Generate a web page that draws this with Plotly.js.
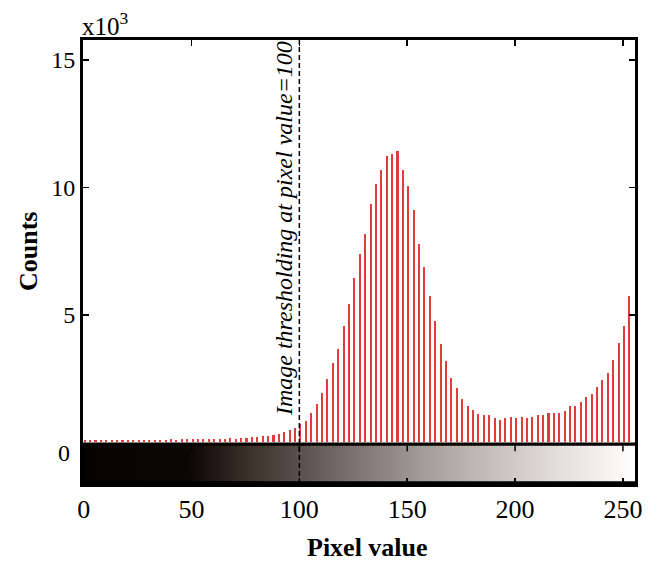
<!DOCTYPE html>
<html>
<head>
<meta charset="utf-8">
<script src="https://cdn.plot.ly/plotly-3.0.1.min.js"></script>
<style>html,body{margin:0;padding:0;background:#fff;}#chart{width:659px;height:564px;}</style>
</head>
<body>
<div id="chart"></div>
<script>
// Bin centres (pixel value) of the histogram bars
const pixelValues = [0.5,3,5.5,8,10.5,13,15.5,18,20.5,23,25.5,28,30.5,33,35.5,38,40.5,43,45.5,48,
  50.5,53,55.5,58,60.5,63,65.5,68,70.5,73,75.5,78,80.5,83,85.5,88,90.5,93,95.5,98,
  100.5,103,105.5,108,110.5,113,115.5,118,120.5,123,125.5,128,130.5,133,135.5,138,140.5,143,145.5,148,
  150.5,153,155.5,158,160.5,163,165.5,168,170.5,173,175.5,178,180.5,183,185.5,188,190.5,193,195.5,198,
  200.5,203,205.5,208,210.5,213,215.5,218,220.5,223,225.5,228,230.5,233,235.5,238,240.5,243,245.5,248,
  250.5,253];
// Counts in thousands (x10^3)
const counts = [0.10,0.11,0.10,0.11,0.10,0.11,0.10,0.11,0.10,0.11,
  0.11,0.10,0.11,0.11,0.10,0.11,0.12,0.11,0.12,0.12,
  0.13,0.12,0.14,0.13,0.14,0.15,0.14,0.16,0.15,0.17,
  0.18,0.20,0.20,0.24,0.26,0.30,0.35,0.42,0.50,0.56,
  0.73,0.86,1.15,1.49,1.93,2.50,3.11,3.67,4.55,5.41,
  6.44,7.40,8.18,9.36,10.15,10.70,11.25,11.32,11.42,10.70,
  10.04,9.10,7.80,6.87,5.76,4.78,3.85,3.20,2.52,2.12,
  1.72,1.44,1.26,1.12,1.07,1.07,0.95,0.88,0.95,1.01,
  0.95,1.01,0.97,1.01,1.07,1.07,1.17,1.17,1.17,1.24,
  1.44,1.44,1.60,1.77,1.90,2.19,2.45,2.74,3.24,3.91,
  4.57,5.75];
const xTickVals = [0,50,100,150,200,250];
const yTickVals = [5,10,15];
const threshold = 100;
const thresholdLabel = 'Image thresholding at pixel value=100';

const serif = '"Liberation Serif", "Times New Roman", serif';

const bars = {
  type: 'bar', x: pixelValues, y: counts, width: 0.95,
  marker: {color: '#e03c3c', line: {width: 0}},
  hoverinfo: 'x+y', showlegend: false
};
const gradient = {
  type: 'scatter', mode: 'none', fill: 'toself',
  x: [-0.3, 255.6, 255.6, -0.3, -0.3],
  y: [-0.13, -0.13, -1.52, -1.52, -0.13],
  fillgradient: {
    type: 'horizontal', start: 0, stop: 255,
    colorscale: [
      [0, '#050302'], [0.19, '#0a0604'], [0.235, '#1e1612'], [0.29, '#372c26'],
      [0.39, '#5a504b'], [0.49, '#7b726d'], [0.59, '#9b938e'], [0.69, '#b8b1ac'],
      [0.79, '#d2ccc8'], [0.89, '#e8e5e2'], [0.98, '#faf9f8'], [1, '#ffffff']
    ]
  },
  hoverinfo: 'skip', showlegend: false
};

const shapes = [
  {type: 'rect', xref: 'paper', yref: 'y', x0: 0, x1: 1, y0: -1.7, y1: 0.0,
   fillcolor: '#000', line: {width: 0}, layer: 'below'},
  {type: 'line', xref: 'x', yref: 'paper', x0: threshold, x1: threshold, y0: 0, y1: 1,
   line: {color: '#000', width: 1.5, dash: '5px,3px'}}
];
xTickVals.slice(1).forEach(v => shapes.push({
  type: 'line', xref: 'x', yref: 'y', x0: v, x1: v, y0: -0.13, y1: -0.35,
  line: {color: '#000', width: 1.5}
}));

const layout = {
  width: 659, height: 564,
  margin: {l: 83, r: 24, t: 40, b: 80},
  paper_bgcolor: '#fff', plot_bgcolor: '#fff',
  bargap: 0,
  font: {family: serif, color: '#000'},
  xaxis: {
    range: [-0.3, 255.6], tickvals: xTickVals, ticks: 'inside', ticklen: 6, tickwidth: 1.5,
    tickcolor: '#000', showline: true, linewidth: 3, linecolor: '#000', mirror: 'ticks',
    showgrid: false, zeroline: false, tickfont: {family: serif, size: 26, color: '#000'}
  },
  yaxis: {
    range: [-1.63, 15.78], tickvals: yTickVals, ticks: 'inside', ticklen: 6,
    tickwidth: 1.5, tickcolor: '#000', showline: true, linewidth: 3, linecolor: '#000',
    mirror: 'ticks', showgrid: false, zeroline: false,
    tickfont: {family: serif, size: 24, color: '#000'}
  },
  shapes: shapes,
  annotations: [
    {text: thresholdLabel, xref: 'x', yref: 'paper', x: threshold, y: 0.575, xanchor: 'right',
     yanchor: 'middle', xshift: -1, textangle: -90, showarrow: false,
     font: {family: serif, size: 24, color: '#000', style: 'italic'}},
    {text: 'x10<sup>3</sup>', xref: 'paper', yref: 'paper', x: 0, y: 1, xanchor: 'left',
     yanchor: 'bottom', xshift: -3, yshift: -2, showarrow: false,
     font: {family: serif, size: 25, color: '#000'}},
    {text: '<b>Counts</b>', xref: 'paper', yref: 'paper', x: -0.0996, y: 0.5225,
     xanchor: 'center', yanchor: 'middle', textangle: -90, showarrow: false,
     font: {family: serif, size: 26, color: '#000'}},
    {text: '<b>Pixel value</b>', xref: 'paper', yref: 'paper', x: 0.5145, y: -0.144,
     xanchor: 'center', yanchor: 'middle', showarrow: false,
     font: {family: serif, size: 26, color: '#000'}},
    {text: '0', xref: 'paper', yref: 'paper', x: -0.02, y: 0.0698,
     xanchor: 'right', yanchor: 'middle', showarrow: false,
     font: {family: serif, size: 24, color: '#000'}}
  ]
};

Plotly.newPlot('chart', [bars, gradient], layout, {displayModeBar: false, staticPlot: true});
</script>
</body>
</html>
